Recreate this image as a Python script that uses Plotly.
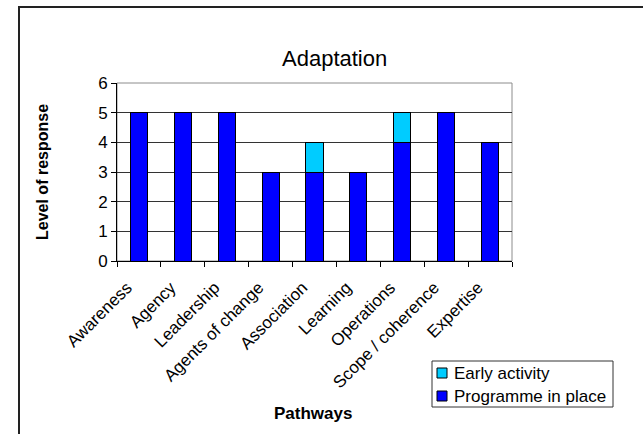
import plotly.graph_objects as go

# Pathway categories and response levels
pathways = ["Awareness", "Agency", "Leadership", "Agents of change", "Association",
            "Learning", "Operations", "Scope / coherence", "Expertise"]
programme_in_place = [5, 5, 5, 3, 3, 3, 4, 5, 4]
early_activity = [None, None, None, None, 1, None, 1, None, None]
y_ticks = [0, 1, 2, 3, 4, 5, 6]

FONT = "Liberation Sans, Arial, sans-serif"
BLUE, CYAN = "#0000FF", "#00CCFF"

# pixel geometry of the plotting area
W, H = 643, 434
L, R, T, B = 117, 512, 83, 261
pw, ph = R - L, B - T


def px_x(x):
    return (x - L) / pw


def px_y(y):
    return (B - y) / ph


fig = go.Figure()
fig.add_trace(go.Bar(
    x=pathways, y=programme_in_place, name="Programme in place",
    marker=dict(color=BLUE, line=dict(color="#000000", width=1)),
))
fig.add_trace(go.Bar(
    x=pathways, y=early_activity, name="Early activity",
    marker=dict(color=CYAN, line=dict(color="#000000", width=1)),
))

fig.update_layout(
    width=W, height=H,
    margin=dict(l=L, r=W - R, t=T, b=H - B, pad=0),
    barmode="stack", bargap=0.61,
    paper_bgcolor="white", plot_bgcolor="white",
    font=dict(family=FONT, color="#000000", size=16),
    showlegend=False,
    xaxis=dict(
        type="category", tickangle=-45, tickson="boundaries",
        ticks="outside", ticklen=5, tickcolor="#000000",
        showline=True, linecolor="#000000", linewidth=1,
        showgrid=False, tickfont=dict(size=17, family=FONT),
        ticklabelstandoff=9, ticklabelshift=-12,
        range=[-0.5, len(pathways) - 0.5],
    ),
    yaxis=dict(
        range=[0, 6], tickvals=y_ticks, ticks="outside", ticklen=5,
        tickcolor="#000000", showline=True, linecolor="#000000", linewidth=1,
        showgrid=True, gridcolor="#333333", gridwidth=1,
        tickfont=dict(size=17, family=FONT), zeroline=False,
    ),
)

# plot-area border (top and right edges) and the outer chart frame
fig.add_shape(type="rect", xref="paper", yref="paper", x0=0, y0=0, x1=1, y1=1,
              line=dict(color="#8c8c8c", width=1), layer="below")
fig.add_shape(type="path", xref="paper", yref="paper",
              path=f"M {px_x(19)} {px_y(440)} L {px_x(19)} {px_y(7)} L {px_x(650)} {px_y(7)}",
              line=dict(color="#222222", width=2))

# legend box with swatches, drawn in the series order top to bottom
legend_items = [("Early activity", CYAN, 373), ("Programme in place", BLUE, 396)]
fig.add_shape(type="rect", xref="paper", yref="paper",
              x0=px_x(432), x1=px_x(613), y0=px_y(361), y1=px_y(407),
              line=dict(color="#333333", width=1), fillcolor="white")
for label, color, cy in legend_items:
    fig.add_shape(type="rect", xref="paper", yref="paper",
                  x0=px_x(437), x1=px_x(447), y0=px_y(cy - 5), y1=px_y(cy + 5),
                  line=dict(color="#000000", width=1), fillcolor=color)
    fig.add_annotation(text=label, xref="paper", yref="paper",
                       x=px_x(452), y=px_y(cy), xanchor="left", yanchor="middle",
                       showarrow=False, font=dict(size=17, family=FONT))

# title and axis titles
fig.add_annotation(text="Adaptation", xref="paper", yref="paper",
                   x=px_x(334), y=px_y(59), xanchor="center", yanchor="middle",
                   showarrow=False, font=dict(size=22, family=FONT))
fig.add_annotation(text="<b>Level of response</b>", xref="paper", yref="paper",
                   x=px_x(42), y=px_y(172), xanchor="center", yanchor="middle",
                   textangle=-90, showarrow=False, font=dict(size=16, family=FONT))
fig.add_annotation(text="<b>Pathways</b>", xref="paper", yref="paper",
                   x=px_x(313), y=px_y(413), xanchor="center", yanchor="middle",
                   showarrow=False, font=dict(size=17, family=FONT))

fig.write_html("out.html")
